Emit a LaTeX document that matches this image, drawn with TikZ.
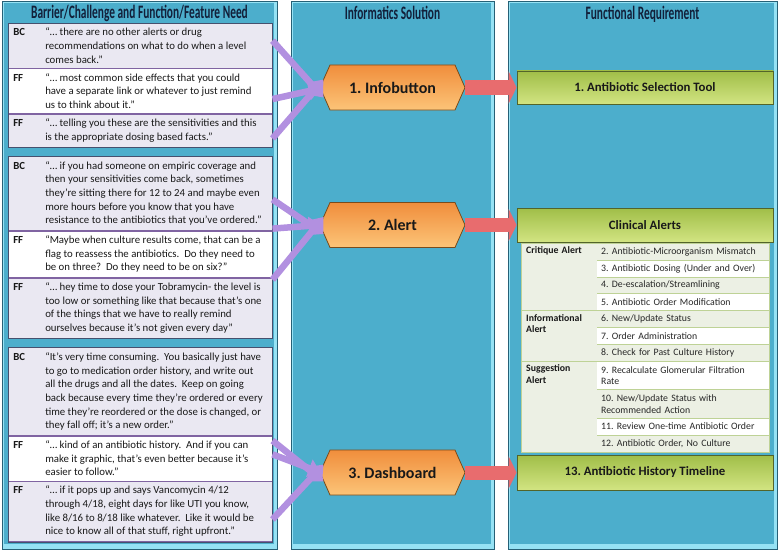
\documentclass[tikz,border=0pt]{standalone}
\usepackage{fontspec}
\setmainfont{Carlito}
\newfontfamily\headfont[FakeStretch=0.6]{Carlito Bold}
\usetikzlibrary{positioning,arrows.meta,shapes.symbols}

\definecolor{panelblue}{RGB}{76,174,204}
\definecolor{panelrim}{RGB}{150,226,244}
\definecolor{paneledge}{RGB}{38,96,118}
\definecolor{headnavy}{RGB}{18,32,58}
\definecolor{lavender}{RGB}{234,232,242}
\definecolor{quoteline}{RGB}{128,100,162}
\definecolor{groupline}{RGB}{70,80,110}
\definecolor{purparrow}{RGB}{178,144,224}
\definecolor{hexlight}{RGB}{252,196,120}
\definecolor{hexdark}{RGB}{240,142,60}
\definecolor{hexedge}{RGB}{122,76,28}
\definecolor{redarrow}{RGB}{232,108,110}
\definecolor{greenlight}{RGB}{210,228,130}
\definecolor{greendark}{RGB}{160,190,72}
\definecolor{greenedge}{RGB}{82,100,42}
\definecolor{tablight}{RGB}{236,240,228}
\definecolor{tabrule}{RGB}{190,210,150}

\newcommand{\quoterow}[2]{\makebox[32pt][l]{\bfseries #1}\parbox[t]{222pt}{\raggedright #2}}

\tikzset{
  quote/.style={draw=quoteline, line width=0.5pt, minimum width=264pt, inner xsep=5pt, inner ysep=4.8pt,
    font=\fontsize{10.8}{13.7}\selectfont, text=black!90},
  lav/.style={quote, fill=lavender},
  wht/.style={quote, fill=white},
  header/.style={font=\headfont\fontsize{19}{22}\selectfont, text=headnavy},
  hexbox/.style={signal, signal to=east and west, signal pointer angle=132, draw=hexedge, line width=0.8pt,
    top color=hexdark, bottom color=hexlight, minimum width=145pt, minimum height=45pt,
    font=\fontsize{16}{18}\selectfont\bfseries, text=black!90},
  reqbox/.style={draw=greenedge, line width=0.8pt, top color=greendark, bottom color=greenlight,
    minimum width=256pt, font=\fontsize{12.8}{15}\selectfont\bfseries, text=black!90},
  purpline/.style={draw=purparrow, line width=6.5pt, -{Triangle[length=12pt,width=18pt]}},
  redline/.style={draw=redarrow, line width=14pt, -{Triangle[length=8pt,width=32pt]}},
  alrow/.style={anchor=north west, text width=164pt, inner xsep=4pt, inner ysep=2pt, minimum height=16.5pt,
    align=left, font=\fontsize{9.8}{11.5}\selectfont, text=black!85},
  alcat/.style={anchor=north west, text width=66pt, inner xsep=5pt, inner ysep=3.5pt, align=left,
    font=\fontsize{9.8}{11.5}\selectfont\bfseries, text=black!90},
  rowrule/.style={draw=tabrule, line width=0.5pt},
}

\begin{document}
\frenchspacing
\begin{tikzpicture}[x=1pt,y=1pt,yscale=-1]
\useasboundingbox (0,0) rectangle (779,551);

% three panels
\draw[fill=panelrim, draw=paneledge, line width=0.8pt] (2,1) rectangle (277,549);
\fill[panelblue] (4,3) rectangle (274,544);
\draw[fill=panelrim, draw=paneledge, line width=0.8pt] (291,1) rectangle (494,549);
\fill[panelblue] (293,3) rectangle (491,544);
\draw[fill=panelrim, draw=paneledge, line width=0.8pt] (508,1) rectangle (777,549);
\fill[panelblue] (510,3) rectangle (774,544);

\node[header] (hbar) at (139.5,13) {Barrier/Challenge and Function/Feature Need};
\node[header] (hsol) at (392.5,13) {Informatics Solution};
\node[header] (hreq) at (642.5,14) {Functional Requirement};

% quotes
\node[lav, anchor=north west] (bcA) at (8,23) {\quoterow{BC}{“… there are no other alerts or drug\\recommendations on what to do when a level\\comes back.”}};
\node[wht, below=0pt of bcA] (ffA) {\quoterow{FF}{“… most common side effects that you could\\have a separate link or whatever to just remind\\us to think about it.”}};
\node[lav, below=0pt of ffA] (ffB) {\quoterow{FF}{“… telling you these are the sensitivities and this\\is the appropriate dosing based facts.”}};

\node[lav, below=9pt of ffB] (bcB) {\quoterow{BC}{“… if you had someone on empiric coverage and\\then your sensitivities come back, sometimes\\they’re sitting there for 12 to 24 and maybe even\\more hours before you know that you have\\resistance to the antibiotics that you’ve ordered.”}};
\node[wht, below=0pt of bcB] (ffC) {\quoterow{FF}{“Maybe when culture results come, that can be a\\flag to reassess the antibiotics.~ Do they need to\\be on three?~ Do they need to be on six?”}};
\node[lav, below=0pt of ffC] (ffD) {\quoterow{FF}{“… hey time to dose your Tobramycin- the level is\\too low or something like that because that’s one\\of the things that we have to really remind\\ourselves because it’s not given every day”}};

\node[lav, below=9pt of ffD] (bcC) {\quoterow{BC}{“It’s very time consuming.~ You basically just have\\to go to medication order history, and write out\\all the drugs and all the dates.~ Keep on going\\back because every time they’re ordered or every\\time they’re reordered or the dose is changed, or\\they fall off; it’s a new order.”}};
\node[wht, below=0pt of bcC] (ffE) {\quoterow{FF}{“… kind of an antibiotic history.~ And if you can\\make it graphic, that’s even better because it’s\\easier to follow.”}};
\node[lav, below=0pt of ffE] (ffF) {\quoterow{FF}{“… if it pops up and says Vancomycin 4/12\\through 4/18, eight days for like UTI you know,\\like 8/16 to 8/18 like whatever.~ Like it would be\\nice to know all of that stuff, right upfront.”}};

\draw[groupline, line width=0.6pt] (bcA.north west) rectangle (ffB.south east);
\draw[groupline, line width=0.6pt] (bcB.north west) rectangle (ffD.south east);
\draw[groupline, line width=0.6pt] (bcC.north west) rectangle (ffF.south east);

% solutions
\node[hexbox] (info) at (392.5,87.5) {1. Infobutton};
\node[hexbox] (alert) at (392.5,225) {2. Alert};
\node[hexbox] (dash) at (392.5,472.5) {3. Dashboard};

\draw[purpline] ([yshift=-5pt]bcA.east) -- ([xshift=4pt,yshift=10pt]info.west);
\draw[purpline] ([yshift=8pt]ffA.east) -- ([xshift=1pt,yshift=1pt]info.west);
\draw[purpline] ([yshift=8pt]ffB.east) -- ([xshift=4pt,yshift=-8pt]info.west);
\draw[purpline] ([yshift=6pt]bcB.east) -- ([xshift=4pt,yshift=9pt]alert.west);
\draw[purpline] ([yshift=-2pt]ffC.north east) -- ([xshift=1pt]alert.west);
\draw[purpline] ([yshift=2pt]ffD.north east) -- ([xshift=4pt,yshift=-8pt]alert.west);
\draw[purpline] ([yshift=5pt]bcC.south east) -- ([xshift=4pt,yshift=9pt]dash.west);
\draw[purpline] ([yshift=-4pt]ffE.east) -- ([xshift=1pt]dash.west);
\draw[purpline] ([yshift=8pt]ffF.east) -- ([xshift=4pt,yshift=-8pt]dash.west);

% requirements
\node[reqbox, minimum height=33pt] (sel) at (645,87.5) {1. Antibiotic Selection Tool};
\node[reqbox, minimum height=34pt] (clin) at (645,225) {Clinical Alerts};
\node[reqbox, minimum height=35pt] (hist) at (645,472.5) {13. Antibiotic History Timeline};

\draw[redline] (info.east) -- (sel.west);
\draw[redline] (alert.east) -- (clin.west);
\draw[redline] (dash.east) -- (hist.west);

% alert table
\coordinate (tabnw) at (521,243);
\node[alrow, fill=tablight] (r2) at (597,243) {2. Antibiotic-Microorganism Mismatch};
\node[alrow, fill=white, below=0pt of r2] (r3) {3. Antibiotic Dosing (Under and Over)};
\node[alrow, fill=tablight, below=0pt of r3] (r4) {4. De-escalation/Streamlining};
\node[alrow, fill=white, below=0pt of r4] (r5) {5. Antibiotic Order Modification};
\node[alrow, fill=tablight, below=0pt of r5] (r6) {6. New/Update Status};
\node[alrow, fill=white, below=0pt of r6] (r7) {7. Order Administration};
\node[alrow, fill=tablight, below=0pt of r7] (r8) {8. Check for Past Culture History};
\node[alrow, fill=white, minimum height=28pt, below=0pt of r8] (r9) {9. Recalculate Glomerular Filtration\\Rate};
\node[alrow, fill=tablight, minimum height=28pt, below=0pt of r9] (r10) {10. New/Update Status with\\Recommended Action};
\node[alrow, fill=white, below=0pt of r10] (r11) {11. Review One-time Antibiotic Order};
\node[alrow, fill=tablight, below=0pt of r11] (r12) {12. Antibiotic Order, No Culture};
\fill[tablight] (tabnw) rectangle (r12.south west);

\node[alcat] (crit) at (tabnw |- r2.north) {Critique Alert};
\node[alcat] (infa) at (tabnw |- r6.north) {Informational\\Alert};
\node[alcat] (sugg) at (tabnw |- r9.north) {Suggestion\\Alert};

\foreach \k in {3,4,5,7,8,10,11,12} \draw[rowrule] (r\k.north west) -- (r\k.north east);
\draw[rowrule] (tabnw |- r6.north) -- (r6.north east);
\draw[rowrule] (tabnw |- r9.north) -- (r9.north east);
\draw[rowrule, line width=0.7pt] (tabnw) rectangle (r12.south east);

\end{tikzpicture}
\end{document}
